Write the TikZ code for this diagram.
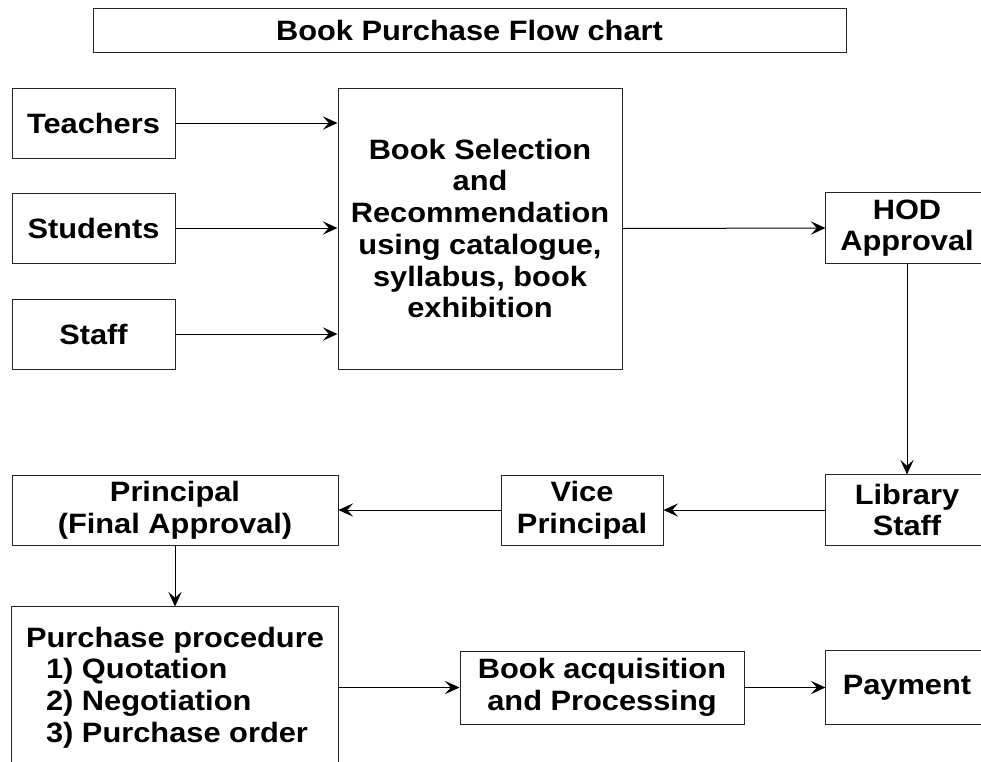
\documentclass[tikz,border=0pt]{standalone}
\usepackage{fontspec}
\setmainfont{Liberation Sans}[FakeStretch=1.1]
\usetikzlibrary{arrows.meta}
\begin{document}
\begin{tikzpicture}[x=0.75pt,y=-0.75pt,
  box/.style={draw=black!85, line width=0.75pt, align=center, inner sep=0pt,
    font=\fontsize{21}{23.8}\selectfont\bfseries},
  openbox/.style={box, draw=none},
  edge/.style={draw=black!85, line width=0.75pt},
  arr/.style={line width=0.75pt, -{Stealth[length=11pt,width=10pt,inset=4.5pt]}}]
\useasboundingbox (0,0) rectangle (981,761);
\node[box, minimum width=564.75pt, minimum height=33pt] (title) at (469.5,30) {Book Purchase Flow chart};
\node[box, minimum width=122.25pt, minimum height=52.5pt] (teach) at (93.5,123) {Teachers};
\node[box, minimum width=122.25pt, minimum height=52.5pt] (stud) at (93.5,228) {Students};
\node[box, minimum width=122.25pt, minimum height=52.5pt] (staff) at (93.5,334) {Staff};
\node[box, minimum width=213pt, minimum height=210.75pt] (sel) at (480,228.5) {Book Selection\\and\\Recommendation\\using catalogue,\\syllabus, book\\exhibition};
\node[openbox, minimum width=121.5pt, minimum height=52.5pt] (hod) at (907,228) {HOD\\Approval};
\node[openbox, minimum width=121.5pt, minimum height=52.5pt] (lib) at (907,510) {Library\\Staff};
\node[box, minimum width=121.5pt, minimum height=52.5pt] (vp) at (582,510) {Vice\\Principal};
\node[box, minimum width=244.5pt, minimum height=52.5pt] (prin) at (175,510) {Principal\\(Final Approval)};
\node[openbox, minimum width=244.5pt, minimum height=120.75pt, align=left] (pur) at (175,687.5) {Purchase procedure\\\hspace*{15pt}1) Quotation\\\hspace*{15pt}2) Negotiation\\\hspace*{15pt}3) Purchase order};
\node[box, minimum width=213pt, minimum height=54.75pt] (acq) at (602,687.5) {Book acquisition\\and Processing};
\node[openbox, minimum width=121.5pt, minimum height=54.75pt] (pay) at (907,687.5) {Payment};
\draw[edge] ([xshift=40pt]hod.north east) -- (hod.north west) -- (hod.south west) -- ([xshift=40pt]hod.south east);
\draw[edge] ([xshift=40pt]lib.north east) -- (lib.north west) -- (lib.south west) -- ([xshift=40pt]lib.south east);
\draw[edge] ([xshift=40pt]pay.north east) -- (pay.north west) -- (pay.south west) -- ([xshift=40pt]pay.south east);
\draw[edge] ([yshift=-20pt]pur.south west) -- (pur.north west) -- (pur.north east) -- ([yshift=-20pt]pur.south east);
\draw[arr] (teach.east) -- (sel.west |- teach.east);
\draw[arr] (stud.east) -- (sel.west |- stud.east);
\draw[arr] (staff.east) -- (sel.west |- staff.east);
\draw[arr] (sel.east) -- (hod.west);
\draw[arr] (hod.south) -- (lib.north);
\draw[arr] (lib.west) -- (vp.east);
\draw[arr] (vp.west) -- (prin.east);
\draw[arr] (prin.south) -- (pur.north);
\draw[arr] (pur.east) -- (acq.west);
\draw[arr] (acq.east) -- (pay.west);
\end{tikzpicture}
\end{document}
